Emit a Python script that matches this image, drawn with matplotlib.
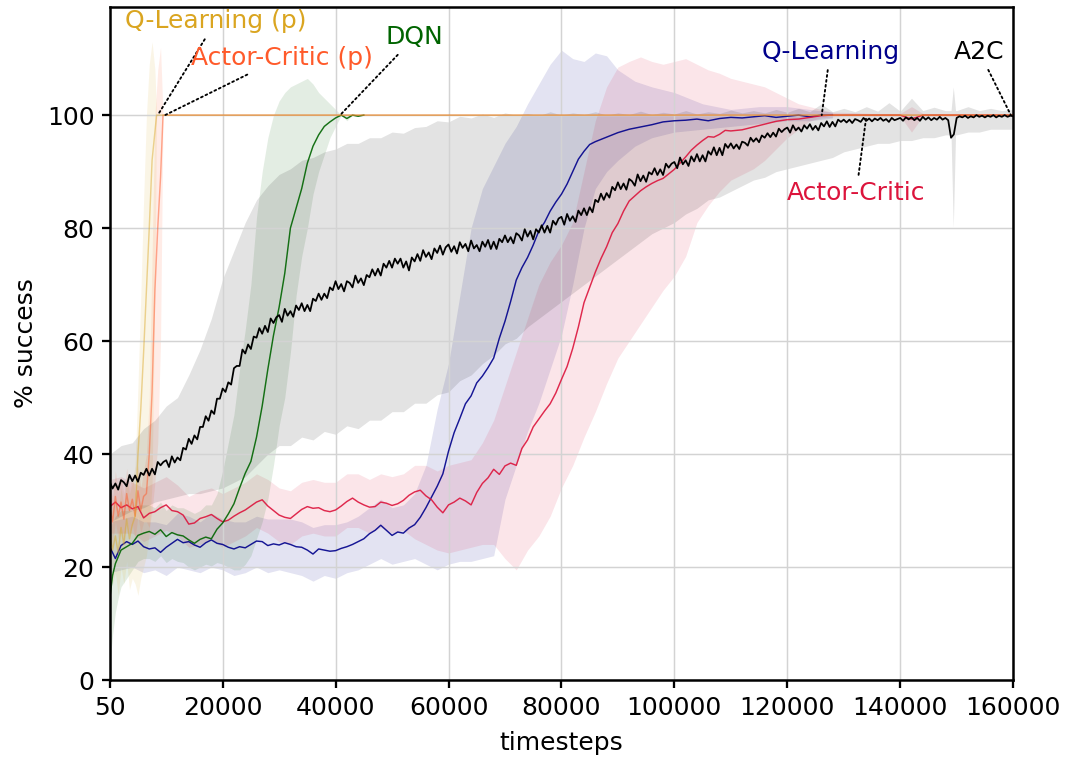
import matplotlib
matplotlib.use("Agg")
import matplotlib.pyplot as plt

# ---------------- data ----------------
xticks = [50, 20000, 40000, 60000, 80000, 100000, 120000, 140000, 160000]
yticks = [0, 20, 40, 60, 80, 100]

# Q-Learning (p)
qlp_t = [50, 500, 1000, 1500, 2000, 2500, 3000, 3500, 4000, 4500, 5000, 5500, 6000, 6500, 7000, 7500, 8000, 8300, 160000]
qlp_y = [26.0, 23.0, 25.5, 22.5, 27.0, 24.0, 28.5, 25.0, 27.5, 29.0, 40.0, 48.0, 58.0, 69.0, 80.0, 92.0, 97.0, 100.0, 100.0]
qlp_lo = [19, 17, 19, 15, 20, 17, 21, 16, 18, 17, 15, 18, 20, 22, 26, 35, 70, 100, 100]
qlp_hi = [33, 30, 32, 30, 34, 31, 36, 33, 35, 38, 52, 68, 85, 100, 109, 113, 108, 100, 100]

# Actor-Critic (p)
acp_t = [50, 500, 1000, 1500, 2000, 2500, 3000, 3500, 4000, 4500, 5000, 5500, 6000, 6500, 7000, 7500, 8000, 8500, 9000, 9440, 160000]
acp_y = [30.5, 28.0, 32.5, 29.0, 31.5, 28.5, 33.0, 30.0, 32.0, 29.0, 33.5, 30.0, 32.5, 33.0, 40.0, 51.0, 69.0, 80.0, 89.0, 100.0, 100.0]
acp_lo = [26, 24, 28, 25, 27, 24.5, 28.5, 26, 27.5, 25, 29, 26, 28, 28, 27, 30, 35, 42, 60, 100, 100]
acp_hi = [35, 32, 37, 33, 36, 33, 37.5, 34, 36.5, 33, 38, 34, 37, 40, 50, 75, 100, 108, 112, 100, 100]

# DQN
dqn_t = [50, 500, 1000, 1500, 2000, 3000, 4000, 5000, 6000, 7000, 8000, 9000, 10000, 11000, 12000,
         13000, 14000, 15000, 16000, 17000, 18000, 19000, 20000, 21000, 22000, 23000, 24000, 25000,
         26000, 27000, 28000, 29000, 30000, 31000, 32000, 33000, 34000, 35000, 36000, 37000, 38000,
         39000, 40000, 41000, 42000, 43000, 44000, 45000]
dqn_y = [14.7, 18.5, 20.6, 21.8, 23.0, 23.6, 24.2, 25.6, 26.0, 26.3, 25.8, 26.6, 25.4, 26.1, 25.7,
         25.5, 24.8, 24.2, 24.9, 25.3, 25.0, 26.7, 27.8, 29.4, 31.2, 34.0, 36.6, 38.7, 43.0, 48.5,
         55.0, 61.0, 66.0, 72.0, 80.0, 83.5, 87.0, 91.5, 94.5, 96.5, 98.0, 98.8, 99.5, 100.0, 99.4,
         100.0, 99.8, 100.0]
dqn_lo = [3, 8, 12, 14.5, 16.5, 18, 19.5, 21, 21.5, 21.5, 21, 22, 20.8, 21.5, 21, 20.8, 20, 19.5,
          20, 20.5, 20.2, 20.8, 20.5, 20.0, 19.5, 19.5, 20.5, 22, 25, 28, 32, 38, 45, 50, 58, 68,
          75, 80, 86, 90, 93, 96, 98, 100, 99, 100, 99.8, 100]
dqn_hi = [27, 28, 29, 29.5, 30, 30, 30, 31, 31, 31, 30.5, 31.5, 30, 31, 30.5, 30.5, 30, 29.5, 30,
          31, 31, 33, 37, 42, 47, 55, 62, 70, 82, 90, 96, 100, 102.5, 104, 105, 105.5, 106, 106.5,
          105.5, 104, 103, 102, 101, 100, 100, 100, 100, 100]

# Q-Learning
ql_t = [50] + list(range(1000, 90001, 1000)) + list(range(92000, 128001, 2000))
ql_y = [23.5, 21.5, 23.8, 24.5, 24.0, 24.6, 23.6, 23.2, 23.4, 22.6,
        23.5, 24.2, 24.9, 24.3, 24.5, 23.9, 23.5, 24.3, 24.8, 24.2,
        24.0, 23.5, 23.2, 23.6, 23.4, 24.0, 24.6, 24.5, 23.8, 24.1,
        23.9, 24.3, 24.0, 23.6, 23.5, 23.0, 22.3, 23.2, 23.0, 22.8,
        22.9, 23.3, 23.6, 24.0, 24.5, 25.0, 25.9, 26.5, 27.4, 26.5,
        25.6, 26.2, 26.0, 26.9, 27.5, 28.8, 30.5, 32.4, 34.3, 36.5,
        40.5, 43.8, 46.3, 48.9, 50.3, 52.6, 53.8, 55.3, 57.0, 60.5,
        63.5, 67.0, 70.8, 73.0, 74.8, 77.0, 79.5, 81.0, 83.0, 84.6,
        86.0, 87.8, 90.0, 92.2, 93.6, 94.8, 95.3, 95.7, 96.1, 96.5,
        96.9, 97.5, 97.9, 98.3, 98.8, 99.0, 99.1, 99.3, 99.0, 99.4,
        99.6, 99.5, 99.7, 99.9, 99.6, 99.8, 100.0, 99.7, 100.0, 100.0]
ql_band_t = [50] + list(range(2000, 90001, 2000)) + [93000, 96000, 100000, 105000, 110000, 115000, 120000, 124000, 128000]
ql_lo = [19, 19.5, 20, 19, 19.5, 18.5, 20, 19.5, 19, 20, 19.5,
         18.5, 19, 20, 19, 19.5, 19, 18.5, 17.5, 18.5, 18,
         19, 19.5, 20.5, 21.5, 20.5, 21, 21.5, 20.5, 19.5, 20.5,
         21, 21, 21.5, 22, 32, 38, 44, 49, 55, 61,
         70, 80, 87, 90, 92,
         94.5, 96, 97, 97.5, 98, 98.5, 99, 99, 99.5]
ql_hi = [28, 28.5, 29, 28, 28, 27.5, 29.5, 29, 28, 29.5, 28.5,
         28, 28, 29, 28.5, 28.5, 28.5, 28, 27, 27.5, 27.5,
         28, 29, 30.5, 32, 30.5, 31, 33, 38, 48, 56,
         68, 80, 87, 91, 95, 98, 102, 105.5, 109, 111.5,
         110, 109.5, 111, 110.5, 108,
         106, 105, 104, 102, 101, 101.5, 101.5, 101, 100.5]

# Actor-Critic
ac_t = [50] + list(range(1000, 110001, 1000)) + list(range(112000, 130001, 2000)) + [135000, 140000, 142000, 144000, 150000, 160000]
ac_y = [30.7, 31.5, 30.5, 31.0, 30.3, 30.7, 28.7, 29.5, 29.8, 30.5,
        31.0, 30.0, 29.8, 29.2, 27.6, 27.8, 28.6, 28.9, 29.3, 28.6,
        28.0, 28.3, 29.0, 29.6, 30.1, 30.8, 31.5, 31.9, 30.8, 30.0,
        29.2, 28.8, 28.6, 29.4, 30.2, 30.7, 30.4, 30.5, 30.0, 29.8,
        30.1, 30.8, 31.6, 32.2, 31.5, 31.0, 30.6, 30.7, 31.5, 31.3,
        30.9, 31.2, 31.8, 32.7, 33.3, 33.6, 32.6, 31.9, 30.6, 29.6,
        31.0, 31.5, 32.2, 31.7, 31.0, 33.2, 34.8, 35.8, 37.3, 36.4,
        37.9, 38.4, 38.0, 41.0, 42.5, 44.8, 46.2, 47.6, 48.9, 50.8,
        53.2, 55.5, 58.7, 62.5, 66.8, 69.5, 72.2, 74.6, 76.7, 79.2,
        80.8, 83.0, 84.8, 85.7, 86.6, 87.3, 87.9, 88.4, 88.8, 89.6,
        90.4, 91.5, 92.6, 93.8, 94.7, 95.5, 96.2, 96.1, 96.6, 97.3,
        97.2, 97.4, 97.9, 98.4, 98.9, 99.2, 99.3, 99.6, 99.9, 100.0,
        100.0, 100.0, 100.0, 99.3, 100.0, 100.0, 100.0]
ac_band_t = [50] + list(range(2000, 130001, 2000)) + [135000, 140000, 142000, 144000, 160000]
ac_lo = [26, 26, 26, 24.5, 25.5, 26.5, 25.5, 23.5, 24, 25, 23.5,
         24.5, 25.5, 27, 26, 24.5, 24, 25.5, 26, 25.5, 25.5,
         27, 27, 26, 27, 26, 26.5, 25, 24, 23, 22.5,
         23, 23.5, 24, 24, 21.5, 19.5, 23, 25.5, 29, 34,
         38, 43, 47.5, 52.5, 57, 60, 63, 66, 69, 71.5,
         75, 81, 84, 86.5, 88.5, 89.5, 90.5, 92, 94, 96,
         97.5, 99, 99.5, 99.7, 99.8,
         99.8, 99.8, 97, 99.8, 99.8]
ac_hi = [35.5, 36, 35, 34, 35, 36, 34.5, 32.5, 33.5, 34, 33,
         34, 35, 36.5, 35.5, 34, 33.5, 35, 35.5, 35, 35,
         36.5, 36.5, 35.5, 36.5, 36, 36.5, 38, 38, 37, 38,
         38.5, 39, 42, 46, 52, 58, 64, 70, 74, 77,
         81, 90, 99, 105, 108.5, 109.5, 110.3, 109.5, 109, 109.5,
         110, 109, 108, 107.4, 106.5, 106, 105.5, 105, 104, 103,
         102, 101.5, 101, 100.5, 100.5,
         100.3, 100.3, 101.5, 100.3, 100.2]

# A2C (one value every 500 timesteps)
a2c_t = [50] + list(range(500, 160001, 500))
a2c_y = [35.0, 33.9, 34.8, 33.7, 35.4, 35.0, 34.3, 36.3, 35.2, 36.2,
         35.1, 36.7, 36.3, 37.4, 36.2, 37.4, 36.4, 38.6, 38.0, 38.6,
         38.9, 37.7, 39.6, 38.5, 39.4, 38.9, 41.1, 40.8, 42.7, 41.8,
         43.3, 42.6, 44.8, 44.8, 46.7, 45.9, 47.7, 47.1, 49.8, 49.8,
         51.6, 51.0, 52.7, 52.3, 55.2, 55.6, 55.6, 58.5, 57.8, 59.4,
         58.6, 60.8, 60.6, 62.3, 61.3, 62.7, 61.6, 64.0, 63.2, 64.2,
         64.6, 63.4, 65.7, 64.5, 65.3, 64.3, 66.3, 65.5, 66.7, 65.3,
         66.4, 65.3, 67.5, 67.1, 68.4, 67.3, 68.4, 67.6, 69.5, 69.0,
         70.6, 69.2, 70.1, 68.8, 70.6, 70.3, 69.5, 71.6, 70.3, 71.1,
         69.9, 71.7, 71.3, 72.7, 71.6, 72.8, 71.6, 73.7, 73.0, 74.2,
         73.0, 74.6, 73.7, 74.6, 73.0, 74.1, 72.5, 74.8, 74.1, 75.4,
         74.2, 76.1, 74.9, 75.7, 74.5, 76.4, 75.6, 76.9, 75.3, 76.6,
         77.1, 75.8, 76.8, 75.5, 77.5, 76.5, 77.2, 75.9, 77.8, 76.4,
         77.0, 75.9, 77.6, 76.7, 77.9, 76.3, 77.6, 76.3, 78.1, 77.5,
         78.7, 77.5, 78.4, 77.3, 79.1, 78.7, 77.8, 79.8, 78.5, 79.5,
         78.0, 79.8, 79.2, 80.5, 79.2, 80.4, 79.2, 81.3, 80.6, 81.7,
         82.0, 80.6, 82.5, 81.3, 82.1, 81.1, 83.1, 82.3, 83.5, 82.3,
         83.7, 82.8, 85.0, 84.6, 86.1, 85.0, 86.2, 85.4, 87.3, 86.7,
         88.1, 86.9, 87.9, 86.8, 88.7, 88.3, 87.5, 89.5, 88.3, 89.3,
         88.2, 89.9, 89.5, 90.6, 89.4, 90.4, 89.4, 91.4, 90.7, 91.4,
         91.7, 90.6, 92.5, 91.3, 92.0, 91.0, 92.7, 91.8, 93.1, 91.8,
         92.9, 91.8, 93.6, 93.0, 94.3, 92.9, 94.2, 92.9, 94.9, 94.2,
         95.0, 94.1, 94.8, 94.0, 95.3, 95.1, 94.6, 96.0, 95.3, 95.9,
         95.2, 96.4, 96.0, 96.8, 96.1, 96.9, 96.2, 97.6, 97.0, 97.5,
         97.8, 96.9, 98.2, 97.3, 97.8, 97.1, 98.2, 97.6, 98.4, 97.4,
         98.1, 97.3, 98.6, 98.0, 98.9, 97.9, 98.8, 98.0, 99.2, 98.8,
         99.2, 98.7, 99.2, 98.6, 99.3, 99.1, 98.8, 99.5, 99.0, 99.4,
         98.9, 99.4, 99.1, 99.5, 99.0, 99.3, 98.8, 99.5, 99.1, 99.3,
         99.5, 99.0, 99.6, 99.25, 99.6, 99.1, 99.5, 99.0, 99.7, 99.2,
         99.6, 99.1, 99.5, 99.2, 99.7, 99.2, 99.5, 99.1, 96.0, 96.6,
         99.5, 99.8, 99.6, 99.9, 99.5, 99.8, 99.6, 100.0, 99.7, 99.9,
         99.6, 99.9, 99.7, 100.0, 99.6, 99.9, 99.7, 100.0, 99.7, 99.9,
         99.8]
a2c_band_t = ([50] + list(range(2000, 148001, 2000)) + [149000, 149400, 149800]
              + list(range(150000, 160001, 2000)))
a2c_hi = [40, 41.5, 42, 44.5, 46, 48.5, 50, 54, 58.5, 64, 71,
          76, 81, 85, 87.5, 89.5, 90.5, 92, 92.5, 93.5, 94,
          95, 95, 96, 96, 97, 96.8, 97.8, 98, 99, 98.8,
          99.8, 99.5, 100.2, 99.6, 100.4, 100, 100.3, 99.9, 100.6, 100,
          100.4, 100.1, 100.6, 100, 100.4, 100.1, 100.7, 100.1, 100.5, 100.2,
          100.8, 100.2, 100.6, 100.3, 100.9, 100.4, 100.8, 100.4, 101, 100.5,
          101.2, 100.6, 102, 100.6, 101.2, 100.6, 101.5, 100.7, 102.2, 100.7,
          103, 100.8, 101.4, 100.8,
          100.8, 105, 100.8,
          100.8, 101.5, 100.8, 101.2, 100.8, 101]
a2c_lo = [28, 29, 30, 30.5, 31.5, 32, 32.5, 33, 33, 33.5, 34,
          35, 36, 38, 40, 41.5, 41.5, 43, 42.5, 44, 43.5,
          45, 44.5, 46, 46, 47.5, 47.5, 49, 49, 50.5, 51,
          53, 54, 56, 57.5, 59.5, 60.5, 62.5, 64, 65.5, 67,
          68.5, 70, 71.5, 73, 74.5, 76, 77.5, 79, 80, 81,
          82.5, 83.5, 85, 85.5, 86.5, 87.5, 88.5, 89, 90, 90.5,
          91, 91.5, 92, 92.5, 93.5, 94, 94.5, 95, 95, 95.5,
          95.5, 96, 96, 96.5,
          96.5, 80, 96.5,
          96.5, 97, 97, 97.5, 97.5, 97.5]

# ---------------- plot ----------------
fig = plt.figure(figsize=(7.1, 757 / 150), dpi=150)
ax = fig.add_axes([0.1033, 0.1017, 0.848, 0.8895])

band_alpha = 0.11
# (times, values, band times, lower, upper, colour, line alpha, line width)
series = [
    (ql_t, ql_y, ql_band_t, ql_lo, ql_hi, "darkblue", 0.9, 0.7),
    (ac_t, ac_y, ac_band_t, ac_lo, ac_hi, "crimson", 0.9, 0.7),
    (dqn_t, dqn_y, dqn_t, dqn_lo, dqn_hi, "darkgreen", 0.9, 0.7),
    (acp_t, acp_y, acp_t, acp_lo, acp_hi, "#ff5a2a", 0.5, 0.7),
    (qlp_t, qlp_y, qlp_t, qlp_lo, qlp_hi, "goldenrod", 0.45, 0.7),
    (a2c_t, a2c_y, a2c_band_t, a2c_lo, a2c_hi, "black", 1.0, 0.85),
]
for t, y, bt, lo, hi, c, a, w in series:
    ax.fill_between(bt, lo, hi, color=c, alpha=band_alpha, lw=0)
for t, y, bt, lo, hi, c, a, w in series:
    ax.plot(t, y, color=c, lw=w, alpha=a)

ax.set_xlim(50, 160000)
ax.set_ylim(0, 119.2)
ax.set_xticks(xticks)
ax.set_xticklabels([str(v) for v in xticks])
ax.set_yticks(yticks)
ax.tick_params(labelsize=12, length=4, width=1.1)
ax.grid(True, color="#d3d3d3", lw=0.7)
for s in ax.spines.values():
    s.set_linewidth(1.2)
ax.set_xlabel("timesteps", fontsize=12, labelpad=5.5)
ax.set_ylabel("% success", fontsize=12)

arrow = dict(arrowstyle="-", linestyle=":", color="black", lw=0.9, shrinkA=1, shrinkB=0)
ax.annotate("Q-Learning (p)", xy=(8500, 100), xytext=(18800, 116.6), color="goldenrod",
            fontsize=12, ha="center", va="center", arrowprops=arrow)
ax.annotate("Actor-Critic (p)", xy=(9800, 100), xytext=(30500, 110.2), color="#ff5a2a",
            fontsize=12, ha="center", va="center", arrowprops=arrow)
ax.annotate("DQN", xy=(40800, 100), xytext=(54000, 113.8), color="darkgreen",
            fontsize=12, ha="center", va="center", arrowprops=arrow)
ax.annotate("Q-Learning", xy=(126100, 100), xytext=(127600, 111.2), color="darkblue",
            fontsize=12, ha="center", va="center", arrowprops=arrow)
ax.annotate("Actor-Critic", xy=(134000, 99.8), xytext=(132200, 86.2), color="crimson",
            fontsize=12, ha="center", va="center", arrowprops=arrow)
ax.annotate("A2C", xy=(159600, 100), xytext=(154000, 111.2), color="black",
            fontsize=12, ha="center", va="center", arrowprops=arrow)

fig.savefig("out.png", dpi=150)
